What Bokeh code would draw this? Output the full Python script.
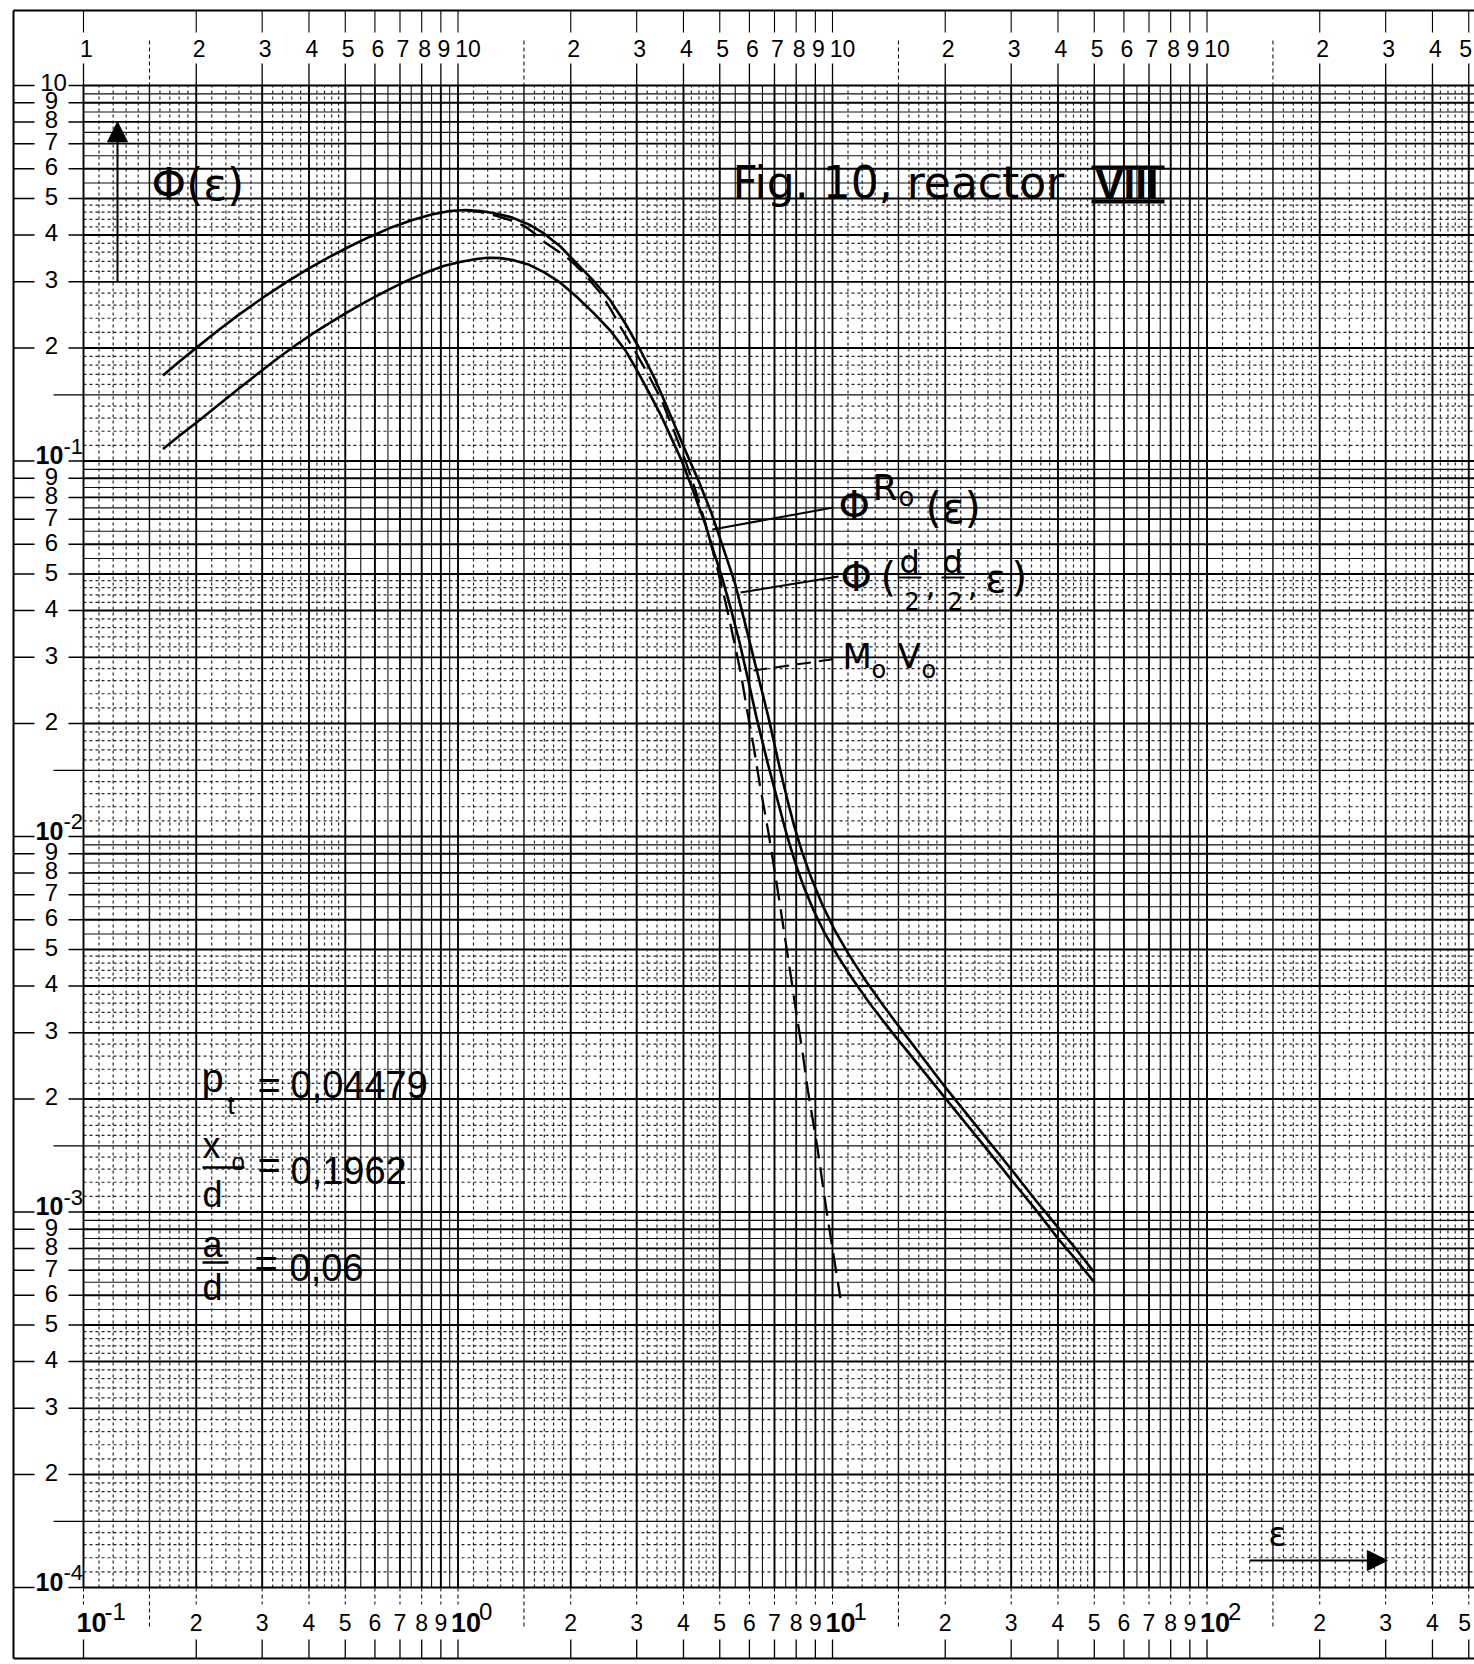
import math
from bokeh.plotting import figure
from bokeh.models import Range1d, Arrow, NormalHead
from bokeh.core.properties import value
from bokeh.embed import file_html
from bokeh.resources import INLINE

# ---------------- chart values ----------------
# Phi(d/2, d/2, eps)  (upper solid curve)
eps_d2 = [0.163, 0.18, 0.2, 0.23, 0.26, 0.307, 0.35, 0.4, 0.45, 0.507, 0.58, 0.66, 0.752, 0.85, 0.95,
          1.05, 1.15, 1.25, 1.386, 1.55, 1.70, 1.88, 2.08, 2.3, 2.55, 2.8, 3.08, 3.35, 3.65, 4.04,
          4.4, 4.75, 5.1, 5.49, 5.9, 6.3, 6.75, 7.2, 7.55, 7.9, 8.3, 8.8, 9.4, 10.1, 11.0, 12.2, 13.6, 15.3,
          20.0, 25.0, 30.0, 35.0, 40.0, 45.0, 50.0]
phi_d2 = [0.169, 0.1837, 0.2001, 0.2236, 0.2454, 0.2758, 0.3004, 0.3257, 0.3479, 0.3703, 0.3951, 0.4178, 0.4378,
          0.4535, 0.4631,
          0.466, 0.463, 0.457, 0.446, 0.426, 0.403, 0.372, 0.335, 0.302, 0.268, 0.232, 0.196, 0.166, 0.136, 0.107,
          0.088, 0.0727, 0.059, 0.0473, 0.0355, 0.0273, 0.0207, 0.0155, 0.0127, 0.01067, 0.00907, 0.0077, 0.00657,
          0.00567, 0.00489, 0.00416, 0.00357, 0.00305,
          0.00215, 0.00163, 0.00130, 0.00107, 0.00091, 0.00079, 0.00069]

# Phi^Ro(eps)  (lower solid curve)
eps_r0 = [0.163, 0.18, 0.2, 0.23, 0.26, 0.3, 0.333, 0.37, 0.42, 0.47, 0.507, 0.57, 0.64, 0.71, 0.752,
          0.83, 0.92, 1.02, 1.12, 1.2, 1.3, 1.4, 1.55, 1.70, 1.88, 2.08, 2.3, 2.55, 2.8, 3.03,
          3.25, 3.5, 3.73, 3.96, 4.25, 4.57, 4.8, 5.06, 5.35, 5.65, 5.95, 6.27, 6.7, 7.1, 7.55,
          7.95, 8.4, 8.9, 9.5, 10.3, 11.3, 12.6, 14.5, 20.0, 25.0, 30.0, 35.0, 40.0, 45.0, 50.0]
phi_r0 = [0.1077, 0.1165, 0.1265, 0.1415, 0.156, 0.1745, 0.189, 0.204, 0.222, 0.238, 0.249, 0.266, 0.283, 0.298, 0.306,
          0.319, 0.331, 0.3395, 0.345, 0.3477, 0.347, 0.343, 0.333, 0.318, 0.298, 0.273, 0.248, 0.2226, 0.197, 0.172,
          0.151, 0.131, 0.114, 0.100, 0.083, 0.068, 0.058, 0.0493, 0.0405, 0.0328, 0.0262, 0.0207, 0.0158, 0.0127, 0.0101,
          0.00852, 0.0073, 0.00636, 0.00556, 0.00483, 0.00418, 0.00358, 0.00299,
          0.00201, 0.00153, 0.00122, 0.00101, 0.00085, 0.00074, 0.00065]

# M_o V_o  (dashed curve)
eps_mv = [1.04, 1.15, 1.26, 1.38, 1.5, 1.6, 1.70, 1.85, 2.0, 2.2, 2.4, 2.56, 2.72, 2.85, 2.97, 3.2, 3.5,
          3.75, 4.05, 4.3, 4.6, 4.85, 5.1, 5.3, 5.5, 5.7, 5.9, 6.15, 6.4, 6.75, 7.05, 7.4, 7.7, 8.0,
          8.3, 8.6, 9.1, 9.65, 10.1, 10.5]
phi_mv = [0.466, 0.460, 0.450, 0.438, 0.423, 0.404, 0.383, 0.362, 0.342, 0.311, 0.28, 0.253, 0.227, 0.210, 0.196,
          0.172, 0.145, 0.122, 0.100, 0.084, 0.067, 0.055, 0.045, 0.038, 0.032, 0.027, 0.022, 0.0175, 0.0137,
          0.0102, 0.0078, 0.0057, 0.0044, 0.0034, 0.0027, 0.0021, 0.0015, 0.0010, 0.00075, 0.00059]

x_decades = [0.1, 1.0, 10.0, 100.0]
x_decade_exps = ["-1", "0", "1", "2"]
y_decades = [1e-1, 1e-2, 1e-3, 1e-4]
y_decade_exps = ["-1", "-2", "-3", "-4"]
digits = [2, 3, 4, 5, 6, 7, 8, 9]
X_LABEL_MAX = 500.0

# graph-paper rulings (mantissas within one decade)
m_major = [1, 2, 3, 4, 5, 6, 7, 8, 9]
m_mid = [1.5]
m_half = [5.5, 6.5, 7.5, 8.5, 9.5]
m_dot = [1.1, 1.2, 1.3, 1.4, 1.6, 1.7, 1.8, 1.9, 2.2, 2.4, 2.6, 2.8,
         3.2, 3.4, 3.6, 3.8, 4.2, 4.4, 4.6, 4.8]

# ---------------- page geometry ----------------
W, H = 1474, 1664
X0, DX = 83.0, 374.5      # page x of eps=0.1, px per decade
Y0, DY = 85.0, 375.5      # page y of phi=1, px per decade


def xd(X):
    return 10 ** (-1 + (X - X0) / DX)


def yd(Y):
    return 10 ** (-(Y - Y0) / DY)


X_LO, X_HI = xd(0), xd(W)
Y_LO, Y_HI = yd(H), yd(0)
PX0, PX1 = 0.1, X_HI
PY0, PY1 = 1e-4, 1.0

p = figure(width=W, height=H, x_axis_type="log", y_axis_type="log",
           x_range=Range1d(X_LO, X_HI), y_range=Range1d(Y_LO, Y_HI),
           output_backend="svg", toolbar_location=None,
           min_border=0, min_border_left=0, min_border_right=0,
           min_border_top=0, min_border_bottom=0)
p.axis.visible = False
p.grid.visible = False
p.outline_line_color = None
p.background_fill_color = "white"
p.border_fill_color = "white"


def vals(decs, ms, lo, hi):
    out = [m * d for d in decs for m in ms]
    return [v for v in out if lo * 0.99999 <= v <= hi * 1.00001]


xdecs = [0.1, 1.0, 10.0, 100.0]
ydecs = [1e-4, 1e-3, 1e-2, 1e-1]


def rule(ms, extra_y=(), **kw):
    xv = vals(xdecs, ms, PX0, PX1)
    yv = vals(ydecs, ms, PY0, PY1) + list(extra_y)
    p.segment(x0=xv, y0=[PY0] * len(xv), x1=xv, y1=[PY1] * len(xv), **kw)
    p.segment(x0=[PX0] * len(yv), y0=yv, x1=[PX1] * len(yv), y1=yv, **kw)


rule(m_dot, line_color="#000000", line_width=1.2, line_dash="3 3", line_alpha=0.85)
rule(m_half, line_color="#111111", line_width=1.1)
rule(m_mid, line_color="#111111", line_width=1.4)
rule(m_major, extra_y=[1.0], line_color="#000000", line_width=1.9)

# ---------------- paper border and marginal ticks ----------------
BL, BT, BB = 13, 10, 1658
p.segment(x0=[xd(BL), xd(BL), xd(BL)], y0=[yd(BT), yd(BT), yd(BB)],
          x1=[xd(BL), X_HI, X_HI], y1=[yd(BB), yd(BT), yd(BB)],
          line_color="black", line_width=2)

xt = vals(xdecs, m_major, PX0, X_HI)
xt15 = vals(xdecs, m_mid, PX0, X_HI)
n = len(xt)
# top margin
p.segment(x0=xt, y0=[yd(63)] * n, x1=xt, y1=[PY1] * n, line_color="black", line_width=1.3)
p.segment(x0=xt, y0=[yd(BT)] * n, x1=xt, y1=[yd(32)] * n, line_color="black", line_width=1.1)
p.segment(x0=xt15, y0=[yd(40)] * len(xt15), x1=xt15, y1=[PY1] * len(xt15),
          line_color="black", line_width=1.0, line_dash="4 3")
# bottom margin
p.segment(x0=xt, y0=[PY0] * n, x1=xt, y1=[yd(1604)] * n, line_color="black", line_width=1.0, line_dash="4 3")
p.segment(x0=xt, y0=[yd(1639)] * n, x1=xt, y1=[yd(BB)] * n, line_color="black", line_width=1.3)
p.segment(x0=xt15, y0=[PY0] * len(xt15), x1=xt15, y1=[yd(1628)] * len(xt15),
          line_color="black", line_width=1.0, line_dash="4 3")
# left margin
yt = vals(ydecs, m_major, PY0, PY1) + [1.0]
yt15 = vals(ydecs, m_mid, PY0, PY1)
m = len(yt)
p.segment(x0=[xd(BL)] * m, y0=yt, x1=[xd(34)] * m, y1=yt, line_color="black", line_width=1.5)
p.segment(x0=[xd(68)] * m, y0=yt, x1=[PX0] * m, y1=yt, line_color="black", line_width=1.5)
p.segment(x0=[xd(53)] * len(yt15), y0=yt15, x1=[PX0] * len(yt15), y1=yt15,
          line_color="black", line_width=1.3)

# ---------------- curves ----------------
p.line(eps_d2, phi_d2, line_color="black", line_width=2.6, line_join="round")
p.line(eps_r0, phi_r0, line_color="black", line_width=2.6, line_join="round")
p.line(eps_mv, phi_mv, line_color="black", line_width=2.3, line_dash="20 9")

# leader lines
p.segment(x0=[xd(712), xd(740)], y0=[yd(529), yd(592)], x1=[xd(833), xd(838)], y1=[yd(507), yd(576)],
          line_color="black", line_width=2)
p.segment(x0=[xd(753)], y0=[yd(670)], x1=[xd(838)], y1=[yd(658)],
          line_color="black", line_width=2, line_dash="14 8")

# ---------------- texts ----------------
SANS = "Liberation Sans"
DV = "DejaVu Sans"


def txt(xs, ys, texts, size, font=SANS, align="left", baseline="middle", style="normal", xo=0, yo=0):
    p.text(x=xs, y=ys, text=texts, text_font=value(font), text_font_size=f"{size}px",
           text_align=align, text_baseline=baseline, text_font_style=style,
           x_offset=xo, y_offset=yo, text_color="black")


# top cycle labels
top_x = [m_ * 0.1 for m_ in m_major] + [m_ * d for d in [1.0, 10.0, 100.0] for m_ in digits
                                         if m_ * d < X_LABEL_MAX]
top_t = [str(m_) for m_ in m_major] + [str(m_) for d in [1.0, 10.0, 100.0] for m_ in digits
                                       if m_ * d < X_LABEL_MAX]
txt(top_x, [yd(48)] * len(top_x), top_t, 23, align="center", xo=3)
txt([X_LABEL_MAX], [yd(48)], ["5"], 23, align="center", xo=-3)
txt([1.0, 10.0, 100.0], [yd(48)] * 3, ["10"] * 3, 23, align="center", xo=10)

# bottom labels
bot_x = [m_ * d for d in x_decades for m_ in digits if m_ * d < X_LABEL_MAX]
bot_t = [str(m_) for d in x_decades for m_ in digits if m_ * d < X_LABEL_MAX]
txt(bot_x, [yd(1622)] * len(bot_x), bot_t, 23, align="center")
txt([X_LABEL_MAX], [yd(1622)], ["5"], 23, align="center", xo=-4)
txt(x_decades, [yd(1622)] * 4, ["10"] * 4, 27, style="bold", xo=-7)
txt(x_decades, [yd(1611)] * 4, x_decade_exps, 24, xo=21)

# left labels
left_y = [m_ * d for d in y_decades for m_ in digits]
txt([xd(51)] * len(left_y), left_y, [str(m_) for d in y_decades for m_ in digits], 24,
    align="center", yo=-2)
txt([xd(53)], [1.0], ["10"], 24, align="center", yo=-3)
txt([xd(35)] * 4, y_decades, ["10"] * 4, 25, style="bold", yo=-6)
txt([xd(63)] * 4, y_decades, y_decade_exps, 22, yo=-15)

# titles and annotations
txt([xd(151)], [yd(184)], ["Φ(ε)"], 44, font=DV)
txt([xd(732)], [yd(182)], ["Fig. 10, reactor"], 44, font=DV)
txt([xd(1095)], [yd(184)], ["VIII"], 42, style="bold")
p.segment(x0=[xd(1091)] * 2, y0=[yd(167), yd(201)], x1=[xd(1164)] * 2, y1=[yd(167), yd(201)],
          line_color="black", line_width=4)

# Phi^{Ro}(eps)
txt([xd(838)], [yd(505)], ["Φ"], 40, font=DV)
txt([xd(872)], [yd(487)], ["R"], 36, font=DV)
txt([xd(898)], [yd(496)], ["o"], 26, font=DV)
txt([xd(925)], [yd(508)], ["(ε)"], 42, font=DV)

# Phi(d/2, d/2, eps)
txt([xd(840)], [yd(576)], ["Φ"], 40, font=DV)
txt([xd(880)], [yd(576)], ["("], 40, font=DV)
txt([xd(899), xd(942)], [yd(561)] * 2, ["d", "d"], 32, font=DV)
txt([xd(904), xd(947)], [yd(600)] * 2, ["2", "2"], 24, font=DV)
txt([xd(925), xd(967)], [yd(584)] * 2, [",", ","], 32, font=DV)
txt([xd(985)], [yd(578)], ["ε"], 38, font=DV)
txt([xd(1011)], [yd(576)], [")"], 40, font=DV)
p.segment(x0=[xd(898), xd(941)], y0=[yd(577)] * 2, x1=[xd(921), xd(964)], y1=[yd(577)] * 2,
          line_color="black", line_width=2)

# M_o V_o
txt([xd(842), xd(897)], [yd(655)] * 2, ["M", "V"], 34, font=DV)
txt([xd(871), xd(921)], [yd(669)] * 2, ["o", "o"], 24, font=DV)

# parameter block
txt([xd(201)], [yd(1077)], ["p"], 40)
txt([xd(227)], [yd(1104)], ["t"], 26)
txt([xd(257), xd(257), xd(254)], [yd(1084), yd(1164), yd(1262)], ["=", "=", "="], 40)
txt([xd(290), xd(290), xd(289)], [yd(1084), yd(1170), yd(1267)], ["0,04479", "0,1962", "0,06"], 38)
txt([xd(202)], [yd(1145)], ["x"], 36)
txt([xd(231)], [yd(1161)], ["o"], 24)
txt([xd(202), xd(202)], [yd(1194), yd(1287)], ["d", "d"], 36)
txt([xd(202)], [yd(1244)], ["a"], 36)
p.segment(x0=[xd(202), xd(202)], y0=[yd(1167), yd(1262)], x1=[xd(244), xd(228)], y1=[yd(1167), yd(1262)],
          line_color="black", line_width=2.5)

# axis arrows
p.add_layout(Arrow(end=NormalHead(size=20, fill_color="black", line_color="black"),
                   x_start=xd(117), y_start=0.3, x_end=xd(117), y_end=0.8,
                   line_color="black", line_width=2))
p.add_layout(Arrow(end=NormalHead(size=20, fill_color="black", line_color="black"),
                   x_start=130, y_start=yd(1560), x_end=303, y_end=yd(1560),
                   line_color="black", line_width=2))
txt([xd(1277)], [yd(1533)], ["ε"], 34, font=DV, align="center")

open("out.html", "w").write(file_html(p, INLINE))
